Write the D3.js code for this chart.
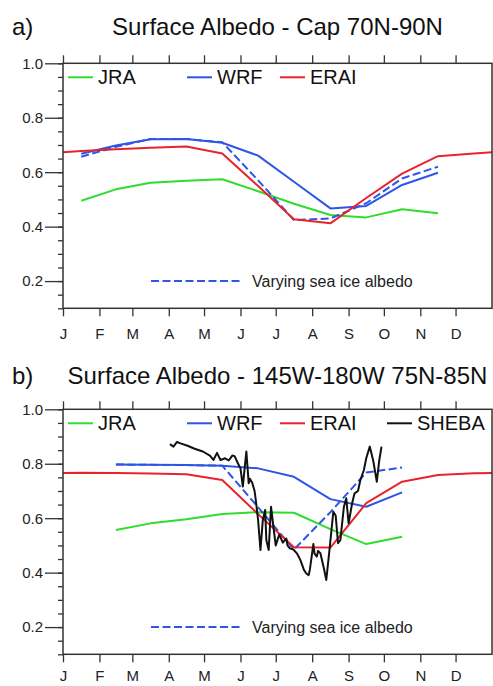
<!DOCTYPE html>
<html lang="en">
<head>
    <meta charset="UTF-8">
    <title>Surface Albedo</title>
    <style>
        body {
            margin: 0;
            background-color: #ffffff;
            font-family: "Liberation Sans", Arial, sans-serif;
        }
        svg {
            display: block;
        }
        .frame {
            fill: none;
            stroke: #333;
            stroke-width: 1.5;
        }
        .axis path {
            display: none;
        }
        .axis line {
            stroke: #333;
            stroke-width: 1.3;
        }
        .axis text {
            font-family: "Liberation Sans", Arial, sans-serif;
            font-size: 15px;
            fill: #222;
        }
        .title {
            font-size: 24px;
            fill: #111;
        }
        .legend-text {
            font-size: 20px;
            fill: #111;
        }
        .note-text {
            font-size: 16px;
            fill: #222;
        }
        .series {
            fill: none;
            stroke-width: 2;
            stroke-linejoin: round;
        }
    </style>
</head>
<body>
    <svg id="chart" width="493" height="686"></svg>

    <script src="https://d3js.org/d3.v7.min.js"></script>
    <script>
        // months: x axis is day of year
        const monthLabels = ["J", "F", "M", "A", "M", "J", "J", "A", "S", "O", "N", "D"];
        const monthStartDay = [0, 31, 59, 90, 120, 151, 181, 212, 243, 273, 304, 334];
        const midMonthDay = [15.5, 45, 74.5, 105, 135.5, 166, 196.5, 227.5, 258, 288.5, 319, 349.5];
        const yMajorTicks = [0.2, 0.4, 0.6, 0.8, 1.0];
        const yMinorTicks = [0.1, 0.15, 0.2, 0.25, 0.3, 0.35, 0.4, 0.45, 0.5, 0.55, 0.6, 0.65, 0.7, 0.75, 0.8, 0.85, 0.9, 0.95, 1.0];

        // a) Cap 70N-90N, monthly means
        const jraCap    = [0.495, 0.537, 0.561, 0.569, 0.574, 0.530, 0.484, 0.443, 0.434, 0.464, 0.449, null];
        const wrfCap    = [0.668, 0.698, 0.721, 0.722, 0.708, 0.661, 0.565, 0.467, 0.476, 0.553, 0.598, null];
        const wrfIceCap = [0.657, 0.693, 0.722, 0.722, 0.710, 0.570, 0.424, 0.430, 0.486, 0.577, 0.620, null];
        const eraiCap   = [0.678, 0.684, 0.690, 0.694, 0.669, 0.549, 0.427, 0.412, 0.505, 0.595, 0.659, 0.669];

        // b) 145W-180W 75N-85N, monthly means
        const jraBeau    = [null, 0.557, 0.581, 0.596, 0.615, 0.622, 0.620, 0.560, 0.505, 0.532, null, null];
        const wrfBeau    = [null, 0.797, 0.796, 0.795, 0.793, 0.783, 0.752, 0.670, 0.642, 0.695, null, null];
        const wrfIceBeau = [null, 0.797, 0.796, 0.795, 0.793, 0.640, 0.485, 0.622, 0.768, 0.786, null, null];
        const eraiBeau   = [0.767, 0.766, 0.764, 0.761, 0.740, 0.615, 0.493, 0.492, 0.655, 0.734, 0.759, 0.765];

        // SHEBA daily observations (day of year, albedo)
        const shebaDay = [91, 94, 97, 100, 106, 112, 119, 125, 128, 131, 134, 138, 141, 144, 146, 149, 151, 153,
            154, 156, 158, 159, 161, 163, 164, 166, 168, 170, 172, 173, 175, 177, 179, 181, 184, 186, 187, 190,
            191, 193, 196, 199, 202, 205, 207, 209, 210, 213, 214, 216, 217, 219, 222, 224, 227, 230, 232, 234,
            236, 239, 241, 243, 246, 248, 251, 253, 256, 258, 261, 264, 267, 269, 271];
        const shebaAlbedo = [0.872, 0.863, 0.880, 0.875, 0.866, 0.855, 0.845, 0.830, 0.814, 0.840, 0.814, 0.820,
            0.812, 0.830, 0.828, 0.800, 0.783, 0.716, 0.760, 0.845, 0.728, 0.745, 0.730, 0.700, 0.667, 0.593,
            0.483, 0.593, 0.630, 0.520, 0.483, 0.642, 0.569, 0.500, 0.540, 0.520, 0.510, 0.525, 0.500, 0.489,
            0.485, 0.471, 0.446, 0.410, 0.397, 0.391, 0.410, 0.505, 0.470, 0.459, 0.480, 0.471, 0.415, 0.373,
            0.495, 0.624, 0.610, 0.508, 0.520, 0.642, 0.673, 0.581, 0.655, 0.691, 0.700, 0.740, 0.777, 0.820,
            0.863, 0.810, 0.734, 0.810, 0.863];

        const colors = { jra: "#2fdc2f", wrf: "#2f55e6", erai: "#e8242a", sheba: "#111111" };
        const dash = "8,3.5";

        const svg = d3.select("#chart");
        const left = 63, right = 492;

        function monthly(values) {
            return values.map((v, i) => ({ day: midMonthDay[i], v: v }));
        }

        // cyclic: add December before and January after so the line reaches both edges
        function cyclic(values) {
            const pts = monthly(values);
            pts.unshift({ day: midMonthDay[11] - 365, v: values[11] });
            pts.push({ day: midMonthDay[0] + 365, v: values[0] });
            return pts;
        }

        function drawPanel(cfg) {
            const top = cfg.top, bottom = cfg.top + 245;

            const x = d3.scaleLinear().domain([0, 365]).range([left, right]);
            const y = d3.scaleLinear().domain([0.1, 1.0]).range([bottom, top]);

            const g = svg.append("g");

            // titles
            g.append("text").attr("class", "title")
                .attr("x", 12).attr("y", cfg.titleY)
                .text(cfg.tag);
            g.append("text").attr("class", "title")
                .attr("x", (left + right) / 2).attr("y", cfg.titleY)
                .attr("text-anchor", "middle")
                .text(cfg.title);

            // axes
            g.append("g").attr("class", "axis")
                .attr("transform", `translate(0,${bottom})`)
                .call(d3.axisBottom(x).tickValues(monthStartDay).tickSize(8).tickPadding(cfg.labelPad)
                    .tickFormat((d, i) => monthLabels[i]));
            g.append("g").attr("class", "axis")
                .attr("transform", `translate(0,${top})`)
                .call(d3.axisTop(x).tickValues(monthStartDay).tickSize(8).tickFormat(""));
            g.append("g").attr("class", "axis")
                .attr("transform", `translate(${left},0)`)
                .call(d3.axisLeft(y).tickValues(yMinorTicks).tickSize(5).tickFormat(""));
            g.append("g").attr("class", "axis")
                .attr("transform", `translate(${left},0)`)
                .call(d3.axisLeft(y).tickValues(yMajorTicks).tickSize(18).tickPadding(2)
                    .tickFormat(d3.format(".1f")));

            const clipId = "clip-" + cfg.tag.charAt(0);
            g.append("clipPath").attr("id", clipId)
                .append("rect")
                .attr("x", left).attr("y", top)
                .attr("width", right - left).attr("height", bottom - top);

            const line = d3.line()
                .defined(d => d.v != null)
                .x(d => x(d.day))
                .y(d => y(d.v));

            const plot = g.append("g").attr("clip-path", `url(#${clipId})`);

            plot.append("path").datum(monthly(cfg.jra)).attr("class", "series")
                .attr("stroke", colors.jra).attr("d", line);
            plot.append("path").datum(monthly(cfg.wrf)).attr("class", "series")
                .attr("stroke", colors.wrf).attr("d", line);
            plot.append("path").datum(monthly(cfg.wrfIce)).attr("class", "series")
                .attr("stroke", colors.wrf).attr("stroke-dasharray", dash).attr("d", line);
            plot.append("path").datum(cyclic(cfg.erai)).attr("class", "series")
                .attr("stroke", colors.erai).attr("d", line);

            if (cfg.sheba) {
                const obs = shebaDay.map((d, i) => ({ day: d, v: shebaAlbedo[i] }));
                plot.append("path").datum(obs).attr("class", "series")
                    .attr("stroke", colors.sheba).attr("stroke-width", 1.8).attr("d", line);
            }

            // legend
            const legendY = top + 14;
            const items = [
                { name: "JRA", color: colors.jra, x0: 68 },
                { name: "WRF", color: colors.wrf, x0: 187 },
                { name: "ERAI", color: colors.erai, x0: 280 }
            ];
            if (cfg.sheba) items.push({ name: "SHEBA", color: colors.sheba, x0: 387 });
            items.forEach(it => {
                g.append("line")
                    .attr("x1", it.x0).attr("x2", it.x0 + 25)
                    .attr("y1", legendY).attr("y2", legendY)
                    .attr("stroke", it.color).attr("stroke-width", 2);
                g.append("text").attr("class", "legend-text")
                    .attr("x", it.x0 + 30).attr("y", legendY)
                    .attr("dy", "0.35em")
                    .text(it.name);
            });

            // dashed line note
            g.append("line")
                .attr("x1", 151).attr("x2", 240)
                .attr("y1", y(0.2)).attr("y2", y(0.2))
                .attr("stroke", colors.wrf).attr("stroke-width", 2)
                .attr("stroke-dasharray", dash);
            g.append("text").attr("class", "note-text")
                .attr("x", 252).attr("y", y(0.2))
                .attr("dy", "0.35em")
                .text("Varying sea ice albedo");

            // frame
            g.append("rect").attr("class", "frame")
                .attr("x", left).attr("y", top)
                .attr("width", right - left).attr("height", bottom - top);
        }

        drawPanel({
            tag: "a)", title: "Surface Albedo - Cap 70N-90N",
            titleY: 34.5, top: 63.3, labelPad: 12.5,
            jra: jraCap, wrf: wrfCap, wrfIce: wrfIceCap, erai: eraiCap, sheba: false
        });
        drawPanel({
            tag: "b)", title: "Surface Albedo - 145W-180W 75N-85N",
            titleY: 383.5, top: 409.3, labelPad: 8.5,
            jra: jraBeau, wrf: wrfBeau, wrfIce: wrfIceBeau, erai: eraiBeau, sheba: true
        });
    </script>
</body>
</html>
